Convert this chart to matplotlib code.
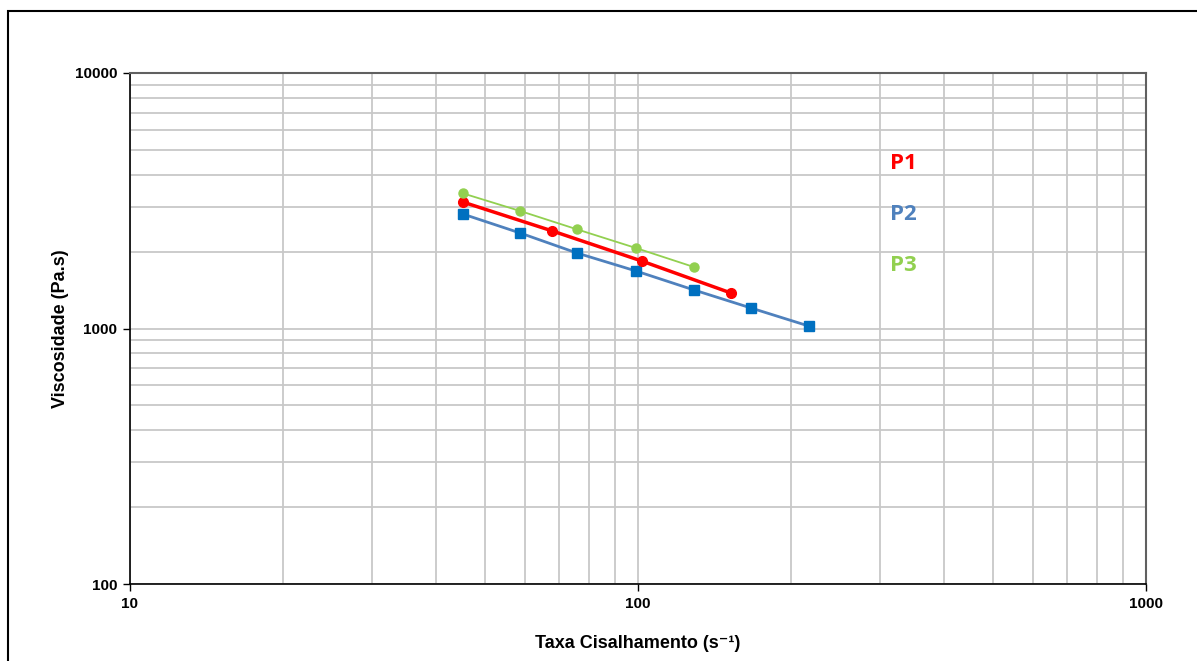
import matplotlib
matplotlib.use("Agg")
import matplotlib.pyplot as plt
from matplotlib.ticker import LogLocator, FixedLocator, NullFormatter, FixedFormatter
from matplotlib.patches import Rectangle

# Data
p1_x = [45.2, 67.8, 101.7, 152.4]
p1_y = [3126, 2409, 1837, 1377]
p2_x = [45.2, 58.6, 75.8, 99.1, 128.9, 166.9, 217.0]
p2_y = [2806, 2365, 1975, 1679, 1415, 1203, 1022]
p3_x = [45.2, 58.6, 75.8, 99.1, 128.9]
p3_y = [3381, 2884, 2445, 2065, 1740]
series_labels = ["P1", "P2", "P3"]
label_y = [4443, 2806, 1760]
label_x = 313
x_ticks = [10, 100, 1000]
y_ticks = [100, 1000, 10000]

red = "#ff0000"
blue_line = "#4f81bd"
blue_mark = "#0070c0"
green = "#92d050"

plt.rcParams['font.family'] = ['Liberation Sans', 'DejaVu Sans']

fig = plt.figure(figsize=(11.97, 6.61), dpi=100)
ax = fig.add_axes([130/1197, 1-584/661, (1146-130)/1197, (584-73)/661])

ax.set_xscale('log')
ax.set_yscale('log')
ax.set_xlim(10, 1000)
ax.set_ylim(100, 10000)

ax.plot(p2_x, p2_y, color=blue_line, lw=2, marker='s', ms=7,
        markerfacecolor=blue_mark, markeredgecolor=blue_mark, zorder=3)
ax.plot(p1_x, p1_y, color=red, lw=2.5, marker='o', ms=7,
        markerfacecolor=red, markeredgecolor=red, zorder=4)
ax.plot(p3_x, p3_y, color=green, lw=1.3, marker='o', ms=6.5,
        markerfacecolor=green, markeredgecolor=green, zorder=5)

cols = [red, blue_line, green]
for lab, yy, c in zip(series_labels, label_y, cols):
    ax.text(label_x, yy, lab, color=c, fontsize=16, fontweight='bold',
            family=['Open Sans', 'DejaVu Sans'], va='center', ha='left', zorder=6)

ax.xaxis.set_major_locator(FixedLocator(x_ticks))
ax.yaxis.set_major_locator(FixedLocator(y_ticks))
ax.xaxis.set_major_formatter(FixedFormatter([str(v) for v in x_ticks]))
ax.yaxis.set_major_formatter(FixedFormatter([str(v) for v in y_ticks]))
ax.xaxis.set_minor_locator(LogLocator(base=10, subs=range(2, 10)))
ax.yaxis.set_minor_locator(LogLocator(base=10, subs=range(2, 10)))
ax.xaxis.set_minor_formatter(NullFormatter())
ax.yaxis.set_minor_formatter(NullFormatter())

ax.grid(True, which='both', color='#c8c8c8', lw=1.3, zorder=0)
ax.set_axisbelow(True)
ax.tick_params(axis='both', which='minor', length=0)
ax.tick_params(axis='both', which='major', length=5, width=1, direction='out',
               labelsize=11, pad=4)
for lab in ax.get_xticklabels() + ax.get_yticklabels():
    lab.set_fontweight('bold')

for s in ['left', 'bottom']:
    ax.spines[s].set_color('black')
    ax.spines[s].set_linewidth(1.2)
for s in ['top', 'right']:
    ax.spines[s].set_color('#606060')
    ax.spines[s].set_linewidth(1.5)

ax.set_xlabel('Taxa Cisalhamento (s\u207b\u00b9)', fontsize=13, fontweight='bold', labelpad=18)
ax.set_ylabel('Viscosidade (Pa.s)', fontsize=13, fontweight='bold', labelpad=4)

fig.patches.append(Rectangle((8/1197, -0.01), 1.2, 1 - 11/661 + 0.01,
                             transform=fig.transFigure, fill=False,
                             edgecolor='black', lw=1.5))

fig.savefig('out.png', dpi=100)
